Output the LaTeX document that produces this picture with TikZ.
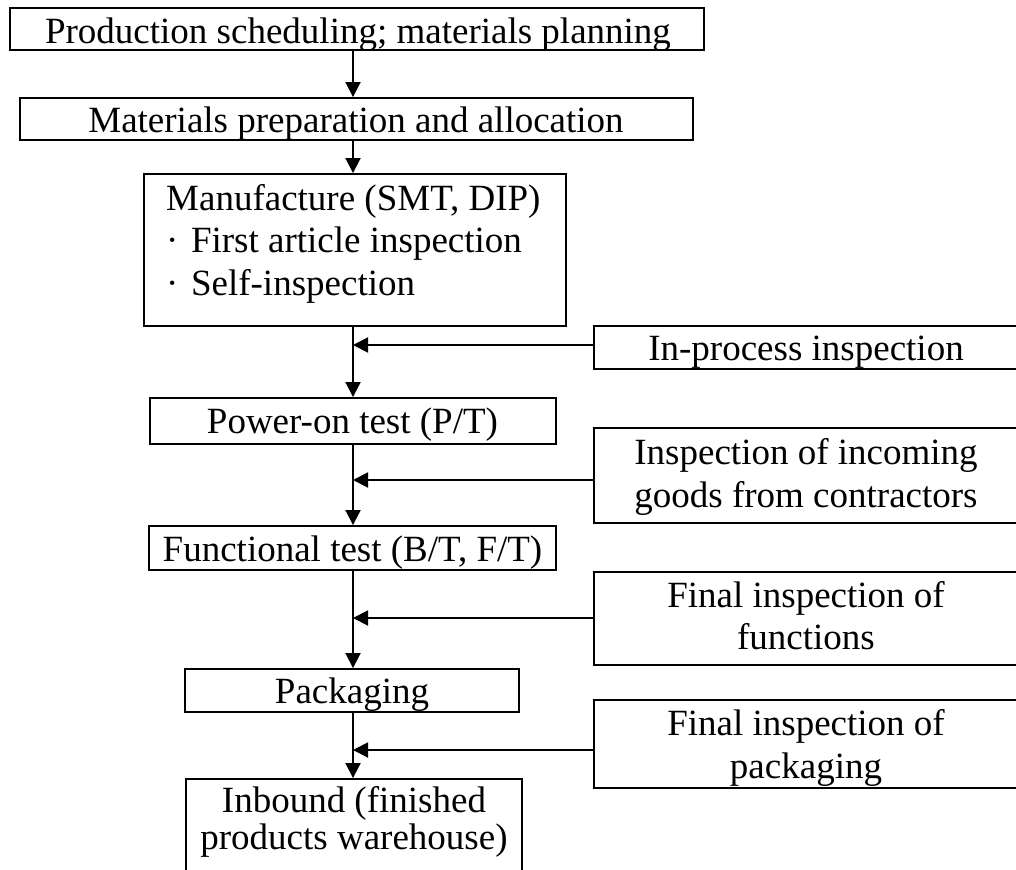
\documentclass[tikz,border=0pt]{standalone}
\usepackage{fontspec}
\setmainfont{Liberation Serif}
\usetikzlibrary{arrows.meta}

% stacked lines whose reference point is the baseline of the first line
\newcommand\stackc[1]{\begin{tabular}[t]{@{}c@{}}#1\end{tabular}}
\newcommand\stackl[1]{\begin{tabular}[t]{@{}l@{}}#1\end{tabular}}
\newcommand\bullitem{·\hspace{0.34em}}

\begin{document}
\begin{tikzpicture}[x=1pt,y=-1pt,
  stepbox/.style={draw, line width=1.9pt, inner sep=0pt, anchor=center},
  label text/.style={inner sep=0pt, anchor=base,
    font=\fontsize{37pt}{43pt}\selectfont},
  flow/.style={line width=1.9pt, -{Triangle[length=15pt,width=15pt]}}]

\useasboundingbox (0,0) rectangle (1016,869);
\fill[white] (0,0) rectangle (1016,869);
\clip (0,0) rectangle (1016,869);

% x position of the main flow line
\coordinate (col) at (353,0);

% main process column
\node[stepbox, minimum width=694pt, minimum height=42pt] (prod) at (357,29) {};
\node[label text] (prodT) at (358,44) {Production scheduling; materials planning};

\node[stepbox, minimum width=673pt, minimum height=42pt] (mat) at (356.5,119) {};
\node[label text] (matT) at (356,133) {Materials preparation and allocation};

\node[stepbox, minimum width=422pt, minimum height=152pt] (manu) at (355,250) {};
\node[label text, anchor=base west, font=\fontsize{37pt}{42.5pt}\selectfont] (manuT) at (166,210)
  {\stackl{Manufacture (SMT, DIP)\\ \bullitem First article inspection\\ \bullitem Self-inspection}};

\node[stepbox, minimum width=406pt, minimum height=46pt] (power) at (353,421) {};
\node[label text] (powerT) at (352.5,433) {Power-on test (P/T)};

\node[stepbox, minimum width=407pt, minimum height=44pt] (func) at (352.5,548) {};
\node[label text] (funcT) at (352.5,561) {Functional test (B/T, F/T)};

\node[stepbox, minimum width=334pt, minimum height=43pt] (pack) at (352,690.5) {};
\node[label text] (packT) at (352,703) {Packaging};

\node[stepbox, minimum width=336pt, minimum height=102pt] (inbound) at (354,830) {};
\node[label text, font=\fontsize{37pt}{37.5pt}\selectfont] (inboundT) at (354,812)
  {\stackc{Inbound (finished\\ products warehouse)}};

% inspection column
\node[stepbox, minimum width=424pt, minimum height=43pt] (inproc) at (806,347.5) {};
\node[label text] (inprocT) at (806,360) {In-process inspection};

\node[stepbox, minimum width=424pt, minimum height=95pt] (incoming) at (806,475.5) {};
\node[label text] (incomingT) at (806,464)
  {\stackc{Inspection of incoming\\ goods from contractors}};

\node[stepbox, minimum width=424pt, minimum height=93pt] (finfunc) at (806,618.5) {};
\node[label text, font=\fontsize{37pt}{42pt}\selectfont] (finfuncT) at (806,607)
  {\stackc{Final inspection of\\ functions}};

\node[stepbox, minimum width=424pt, minimum height=88pt] (finpack) at (806,744) {};
\node[label text] (finpackT) at (806,735)
  {\stackc{Final inspection of\\ packaging}};

% flow arrows
\draw[flow] (prod.south -| col) -- (mat.north -| col);
\draw[flow] (mat.south -| col) -- (manu.north -| col);
\draw[flow] (manu.south -| col) -- (power.north -| col);
\draw[flow] (power.south -| col) -- (func.north -| col);
\draw[flow] (func.south -| col) -- (pack.north -| col);
\draw[flow] (pack.south -| col) -- (inbound.north -| col);

% inspection feeds
\draw[flow] ([yshift=2.5pt]inproc.west) -- ([yshift=2.5pt]inproc.west -| col);
\draw[flow] ([yshift=-4.5pt]incoming.west) -- ([yshift=-4.5pt]incoming.west -| col);
\draw[flow] ([yshift=0.5pt]finfunc.west) -- ([yshift=0.5pt]finfunc.west -| col);
\draw[flow] ([yshift=-6pt]finpack.west) -- ([yshift=-6pt]finpack.west -| col);
\end{tikzpicture}
\end{document}
